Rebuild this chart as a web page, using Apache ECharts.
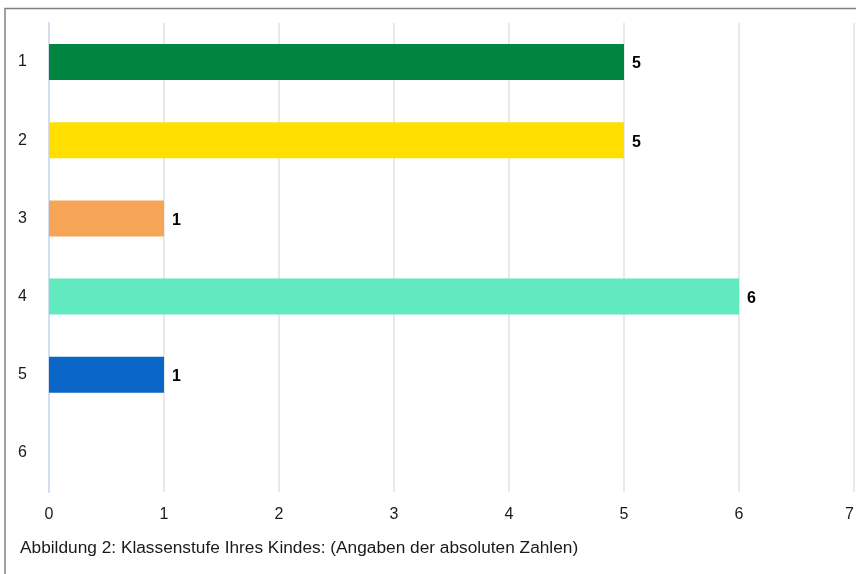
<!DOCTYPE html>
<html><head><meta charset="utf-8">
<script src="https://cdn.jsdelivr.net/npm/echarts@6/dist/echarts.min.js"></script>
<style>html,body{margin:0;padding:0;background:#fff}#c{width:856px;height:574px}</style>
</head><body><div id="c"></div>
<script>
const categories = ['1','2','3','4','5','6'];
const values = [5, 5, 1, 6, 1, 0];
const barColors = ['#00843f','#ffde00','#f5a555','#61e9c0','#0a67c8','#999999'];
const xTicks = [0,1,2,3,4,5,6,7];
const caption = 'Abbildung 2: Klassenstufe Ihres Kindes: (Angaben der absoluten Zahlen)';

const chart = echarts.init(document.getElementById('c'), null, {renderer:'canvas'});
chart.setOption({
  animation:false,
  textStyle:{fontFamily:'Liberation Sans, Arial, sans-serif'},
  graphic:[
    {type:'polyline', shape:{points:[[5,574],[5,8.5],[856,8.5]]}, style:{stroke:'#808080', lineWidth:1.5, fill:null}},
    {type:'text', left:20, top:540, style:{text:caption, font:'17.3px "Liberation Sans", Arial, sans-serif', fill:'#1a1a1a'}}
  ],
  grid:{left:49, width:805, top:23, bottom:82, containLabel:false, outerBoundsMode:'none'},
  xAxis:{type:'value', min:0, max:7, interval:1,
    axisLine:{show:false}, axisTick:{show:false},
    axisLabel:{color:'#1a1a1a', fontSize:16, margin:15, alignMaxLabel:'right', formatter:v=>xTicks.includes(v)?String(v):''},
    splitLine:{lineStyle:{color:'#e2e2e2', width:1.5}}},
  yAxis:{type:'category', data:categories, inverse:true,
    axisLine:{show:true, lineStyle:{color:'#d3deee', width:2}}, axisTick:{show:false},
    axisLabel:{color:'#1a1a1a', fontSize:16, margin:22, padding:[4,0,0,0]}},
  series:[{type:'bar', barWidth:36,
    data:values.map((v,i)=>({value:v, itemStyle:{color:barColors[i]}, label:{show:v>0}})),
    label:{show:true, position:'right', distance:8, offset:[0,2], color:'#000', fontWeight:'bold', fontSize:16}}]
});
</script></body></html>
